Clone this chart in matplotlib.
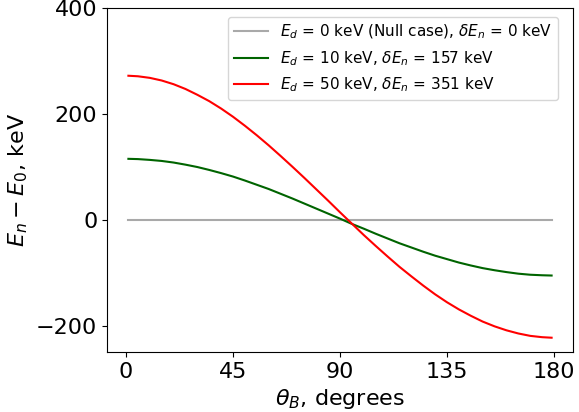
import numpy as np
import matplotlib
matplotlib.use('Agg')
import matplotlib.pyplot as plt

# values (keV), every 5 degrees
theta = [1, 5, 10, 15, 20, 25, 30, 35, 40, 45, 50, 55, 60, 65, 70, 75, 80, 85, 90,
         95, 100, 105, 110, 115, 120, 125, 130, 135, 140, 145, 150, 155, 160, 165, 170, 175, 179]
null_case = [0] * len(theta)
ed10 = [115, 114.5, 113, 111, 108, 104, 99.5, 94, 88, 81.5, 74, 66, 58, 49, 40, 30.5, 21, 11.5, 2,
        -8, -17, -26.5, -35.5, -44.5, -52.5, -60.5, -68, -74.5, -81, -86.5, -91.5, -95.5, -99, -102, -104, -105, -105.5]
ed50 = [272, 271, 268, 263, 256, 247, 236, 224, 210, 194.5, 177.5, 159.5, 140.5, 120.5, 100, 79, 57.5, 36, 14,
        -7.5, -29, -49.5, -69.5, -89, -107, -124.5, -141, -156, -169.5, -181.5, -192.5, -201.5, -209, -215, -219.5, -222, -223]

labels = [r'$E_d$ = 0 keV (Null case), $\delta E_n$ = 0 keV',
          r'$E_d$ = 10 keV, $\delta E_n$ = 157 keV',
          r'$E_d$ = 50 keV, $\delta E_n$ = 351 keV']

fig = plt.figure(figsize=(5.79, 4.12), dpi=100)
ax = fig.add_axes([107/579, 1 - 352/412, (573 - 107)/579, (352 - 8)/412])

ax.plot(theta, null_case, color='darkgray', lw=1.5, label=labels[0])
ax.plot(theta, ed10, color='darkgreen', lw=1.5, label=labels[1])
ax.plot(theta, ed50, color='red', lw=1.5, label=labels[2])

ax.set_xlim(-8, 188)
ax.set_ylim(-250, 400)
ax.set_xticks([0, 45, 90, 135, 180])
ax.set_yticks([-200, 0, 200, 400])
ax.tick_params(labelsize=16)
ax.set_xlabel(r'$\theta_B$, degrees', fontsize=16)
ax.set_ylabel(r'$E_n - E_0$, keV', fontsize=16)

ax.legend(loc='upper right', bbox_to_anchor=(0.968, 0.974), borderaxespad=0,
          fontsize=11, handlelength=2.2)

fig.savefig('out.png', dpi=100)
